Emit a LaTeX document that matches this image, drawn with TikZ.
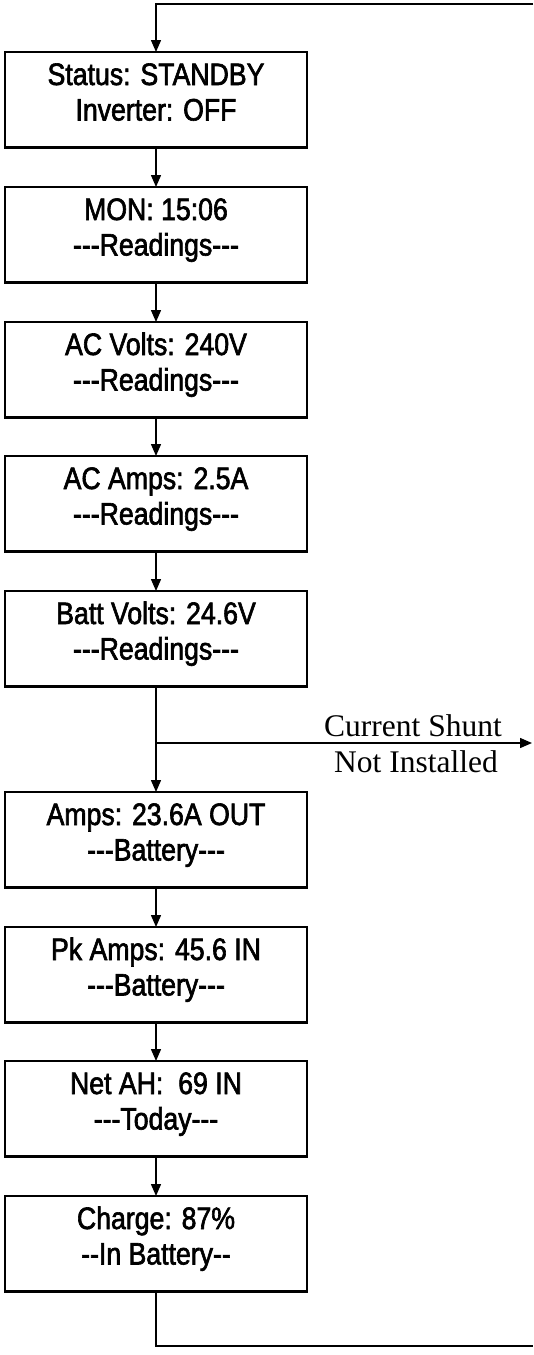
\documentclass[tikz,border=0pt]{standalone}
\usepackage{fontspec}
\setmainfont{Liberation Sans}[FakeStretch=0.86,FakeBold=2,Ligatures=TeXOff]
\newfontfamily\lblserif{Liberation Serif}
\usetikzlibrary{arrows.meta}
\newcommand\mybox[4]{%
  \node[box] (#1) at (156,#2) {};
  \node[txt, yshift=-33pt] (#1a) at (#1.north) {#3};
  \node[txt, yshift=-68.5pt] (#1b) at (#1.north) {#4};
}
\begin{document}
\begin{tikzpicture}[x=1pt,y=-1pt,
  box/.style={draw, line width=2.2pt, minimum width=302pt, minimum height=95.5pt, inner sep=0pt, outer sep=0pt, anchor=north},
  txt/.style={font=\fontsize{31}{35}\selectfont, anchor=base, inner sep=0pt},
  lbl/.style={font=\lblserif\fontsize{31.5}{36}\selectfont, anchor=base, inner sep=0pt},
  conn/.style={line width=1.4pt},
  arr/.style={conn, -{Triangle[length=12pt,width=10pt]}}]
\useasboundingbox (0,0) rectangle (533,1355);
\mybox{b1}{52}{Status: STANDBY}{Inverter: OFF}
\mybox{b2}{187}{MON: 15:06}{---Readings---}
\mybox{b3}{322}{AC Volts: 240V}{---Readings---}
\mybox{b4}{456}{AC Amps: 2.5A}{---Readings---}
\mybox{b5}{591}{Batt Volts: 24.6V}{---Readings---}
\mybox{b6}{792}{Amps: 23.6A OUT}{---Battery---}
\mybox{b7}{927}{Pk Amps: 45.6 IN}{---Battery---}
\mybox{b8}{1061}{Net AH:\ \ 69 IN}{---Today---}
\mybox{b9}{1196}{Charge: 87\%}{--In Battery--}
\coordinate (tr) at (533,4);
\coordinate (tl) at (156,4);
\draw[arr] (tr) -- (tl) -- (b1.north);
\draw[arr] (b1.south) -- (b2.north);
\draw[arr] (b2.south) -- (b3.north);
\draw[arr] (b3.south) -- (b4.north);
\draw[arr] (b4.south) -- (b5.north);
\draw[arr] (b5.south) -- (b6.north);
\coordinate (j) at (156,743);
\coordinate (je) at (532,743);
\draw[arr] (j) -- (je);
\node[lbl] (cs) at (413,736) {Current Shunt};
\node[lbl] (ni) at (416,772) {Not Installed};
\draw[arr] (b6.south) -- (b7.north);
\draw[arr] (b7.south) -- (b8.north);
\draw[arr] (b8.south) -- (b9.north);
\coordinate (bl) at (156,1346);
\coordinate (br) at (533,1346);
\draw[conn] (b9.south) -- (bl) -- (br);
\end{tikzpicture}
\end{document}
